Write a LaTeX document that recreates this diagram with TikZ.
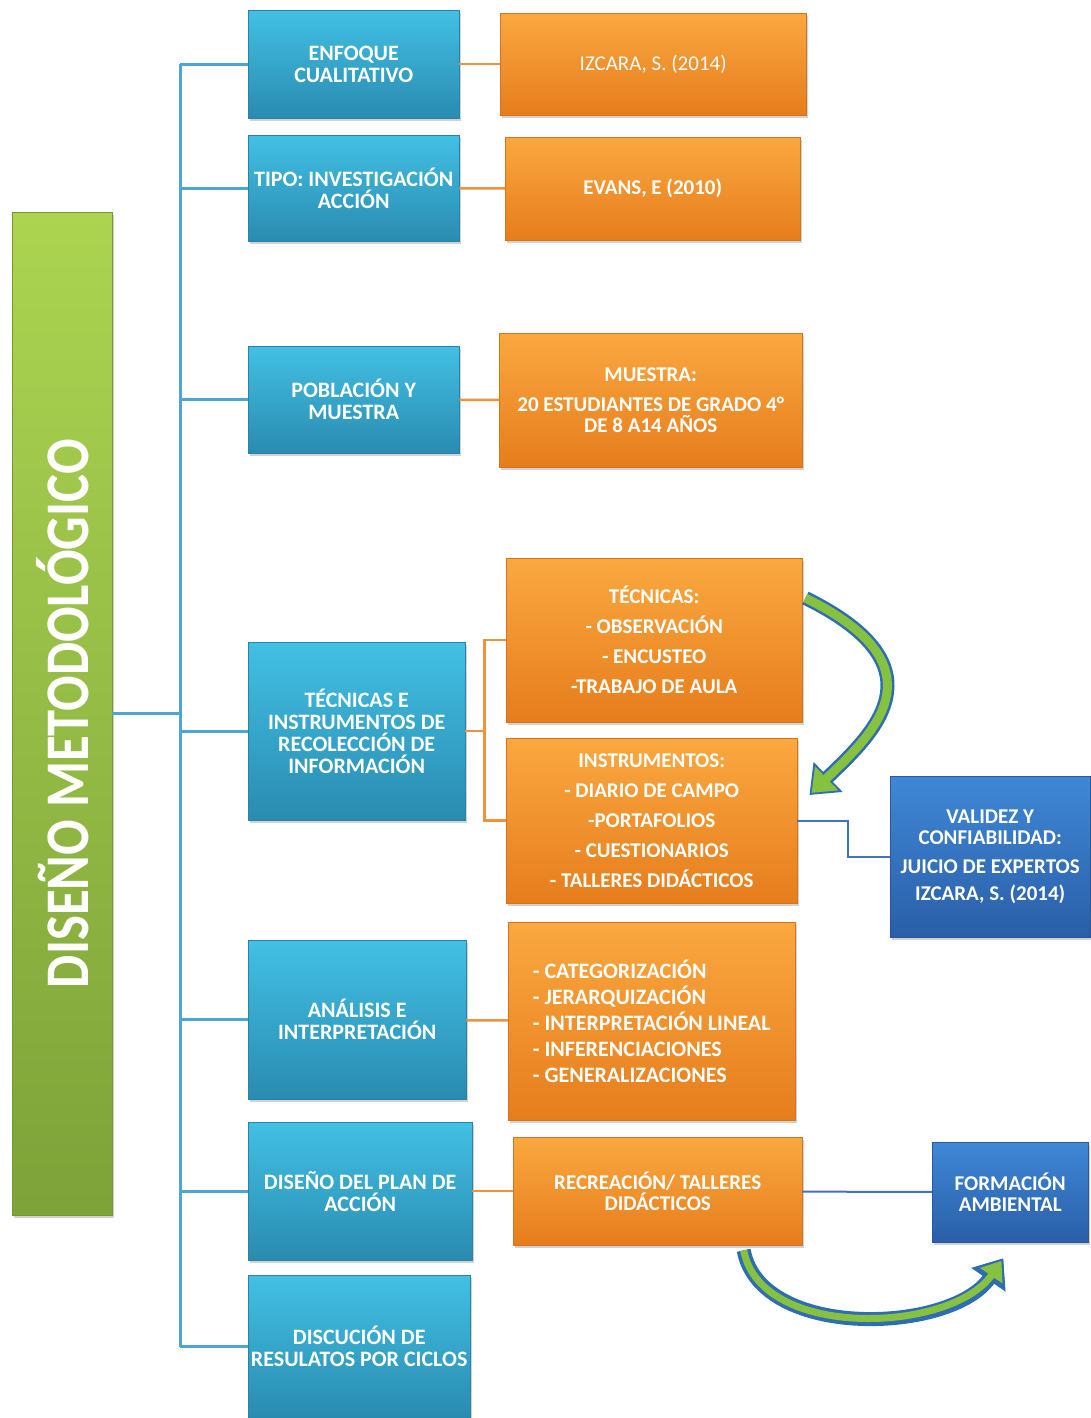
\documentclass[tikz,border=0pt]{standalone}
\usepackage{graphicx}
\usepackage{fontspec}
\setmainfont{Carlito}
\usepackage{tikz}
\usetikzlibrary{positioning,shadows,arrows.meta,calc}

\definecolor{tealtop}{HTML}{42C0E4}
\definecolor{tealbot}{HTML}{2A8BB0}
\definecolor{tealrim}{HTML}{2784A8}
\definecolor{orangetop}{HTML}{FAA840}
\definecolor{orangebot}{HTML}{E67D1C}
\definecolor{orangerim}{HTML}{D77319}
\definecolor{bluetop}{HTML}{3F88D6}
\definecolor{bluebot}{HTML}{2A5EA8}
\definecolor{bluerim}{HTML}{28579B}
\definecolor{greentop}{HTML}{ACD451}
\definecolor{greenbot}{HTML}{7DA339}
\definecolor{greenrim}{HTML}{739834}
\definecolor{trunkline}{HTML}{4DA5D6}
\definecolor{forkline}{HTML}{F0913C}
\definecolor{linkline}{HTML}{3F74BD}
\definecolor{cyclegreen}{HTML}{86C140}
\definecolor{cycleblue}{HTML}{2E6DB4}

\begin{document}
\begin{tikzpicture}[x=1pt,y=-1pt,
topic/.style={
% The shape:
rectangle, anchor=north west, inner sep=1pt,
% The filling:
top color=tealtop, bottom color=tealbot, draw=tealrim,
drop shadow={opacity=0.35, shadow xshift=2pt, shadow yshift=-3pt},
% Font
text=white, align=center, font=\fontsize{22}{22}\selectfont\bfseries},
detail/.style={topic,
top color=orangetop, bottom color=orangebot, draw=orangerim,
font=\fontsize{21}{30}\selectfont\bfseries},
outcome/.style={topic,
top color=bluetop, bottom color=bluebot, draw=bluerim,
font=\fontsize{21}{21}\selectfont\bfseries},
heading/.style={topic,
top color=greentop, bottom color=greenbot, draw=greenrim,
font=\fontsize{62}{62}\selectfont\bfseries},
branch/.style={draw=trunkline, line width=3pt},
fork/.style={draw=forkline, line width=2.5pt},
link/.style={draw=linkline, line width=2pt},
cyclearrow/.style={draw=cyclegreen, line width=9pt,
-{Triangle[length=21pt,width=32pt]}, shorten >=3pt,
preaction={draw=cycleblue, line width=14pt,
-{Triangle[length=26pt,width=40pt]}, shorten >=0pt}}]

\useasboundingbox[fill=white] (0,0) rectangle (1090,1418);

% left bar
\node (title) [heading, minimum width=100pt, minimum height=1003pt] at (12,212)
{\rotatebox{90}{\scalebox{0.85}[1]{DISEÑO METODOLÓGICO}}};

% first column
\node (enfoque) [topic, minimum width=211pt, minimum height=108pt] at (248,10) {ENFOQUE\\CUALITATIVO};
\node (tipo) [topic, minimum width=211pt, minimum height=106pt] at (248,135) {TIPO: INVESTIGACIÓN\\ACCIÓN};
\node (poblacion) [topic, minimum width=211pt, minimum height=107pt] at (248,346) {POBLACIÓN Y\\MUESTRA};
\node (tecnicas) [topic, minimum width=217pt, minimum height=178pt] at (248,642) {TÉCNICAS E\\INSTRUMENTOS DE\\RECOLECCIÓN DE\\INFORMACIÓN};
\node (analisis) [topic, minimum width=218pt, minimum height=159pt] at (248,940) {ANÁLISIS E\\INTERPRETACIÓN};
\node (plan) [topic, minimum width=224pt, minimum height=138pt] at (248,1122) {DISEÑO DEL PLAN DE\\ACCIÓN};
\node (discusion) [topic, minimum width=222pt, minimum height=143pt] at (248,1275) {DISCUCIÓN DE\\RESULATOS POR CICLOS};

% second column
\node (izcara) [detail, minimum width=306pt, minimum height=102pt, font=\fontsize{21}{21}\selectfont] at (500,13) {IZCARA, S. (2014)};
\node (evans) [detail, minimum width=295pt, minimum height=103pt] at (505,137) {EVANS, E (2010)};
\node (muestra) [detail, minimum width=303pt, minimum height=134pt, font=\fontsize{21}{21}\selectfont\bfseries] at (499,333) {MUESTRA:\\[9pt]20 ESTUDIANTES DE GRADO 4°\\DE 8 A14 AÑOS};
\node (tecs) [detail, minimum width=296pt, minimum height=164pt] at (506,558) {TÉCNICAS:\\- OBSERVACIÓN\\- ENCUSTEO\\-TRABAJO DE AULA};
\node (instr) [detail, minimum width=291pt, minimum height=165pt] at (506,738) {INSTRUMENTOS:\\- DIARIO DE CAMPO\\-PORTAFOLIOS\\- CUESTIONARIOS\\- TALLERES DIDÁCTICOS};
\node (pasos) [detail, minimum width=287pt, minimum height=198pt, align=left, font=\fontsize{22}{26}\selectfont\bfseries] at (508,922) {- CATEGORIZACIÓN\\- JERARQUIZACIÓN\\- INTERPRETACIÓN LINEAL\\- INFERENCIACIONES\\- GENERALIZACIONES};
\node (recreacion) [detail, minimum width=289pt, minimum height=108pt, font=\fontsize{21}{21}\selectfont\bfseries] at (513,1137) {RECREACIÓN/ TALLERES\\DIDÁCTICOS};

% third column
\node (validez) [outcome, minimum width=200pt, minimum height=161pt] at (890,776) {VALIDEZ Y\\CONFIABILIDAD:\\[8pt]JUICIO DE EXPERTOS\\[6pt]IZCARA, S. (2014)};
\node (formacion) [outcome, minimum width=156pt, minimum height=100pt] at (932,1142) {FORMACIÓN\\AMBIENTAL};

% trunk
\coordinate (trunk) at (180,0);
\draw[branch] (title.east) -- (title.east -| trunk);
\draw[branch] (enfoque.west -| trunk) -- (discusion.west -| trunk);
\draw[branch] (enfoque.west -| trunk) -- (enfoque.west);
\draw[branch] (tipo.west -| trunk) -- (tipo.west);
\draw[branch] (poblacion.west -| trunk) -- (poblacion.west);
\draw[branch] (tecnicas.west -| trunk) -- (tecnicas.west);
\draw[branch] (analisis.west -| trunk) -- (analisis.west);
\draw[branch] (plan.west -| trunk) -- (plan.west);
\draw[branch] (discusion.west -| trunk) -- (discusion.west);

% orange links
\path (enfoque) edge[fork] (izcara);
\path (tipo) edge[fork] (evans);
\path (poblacion) edge[fork] (muestra);
\path (analisis) edge[fork] (pasos);
\path (plan) edge[fork] (recreacion);
\draw[fork] (tecnicas.east) -- ++(19,0) coordinate (split);
\draw[fork] (tecs.west) -| (split) |- (instr.west);

% blue links
\draw[link] (instr.east) -- ++(51,0) |- (validez.west);
\path (recreacion) edge[link] (formacion);

% curved arrows
\draw[cyclearrow] ([xshift=3pt,yshift=-40pt]tecs.north east)
  .. controls +(142,70) and +(62,-60) .. ([xshift=12pt,yshift=-57pt]instr.north east);
\draw[cyclearrow, line width=7pt, -{Triangle[length=18pt,width=26pt]},
  preaction={draw=cycleblue, line width=11pt, -{Triangle[length=22pt,width=33pt]}, shorten >=0pt}]
  ([xshift=86pt,yshift=-5pt]recreacion.south)
  .. controls +(17,90) and +(-52,75) .. ([xshift=-7pt,yshift=-16pt]formacion.south);
\end{tikzpicture}
\end{document}
